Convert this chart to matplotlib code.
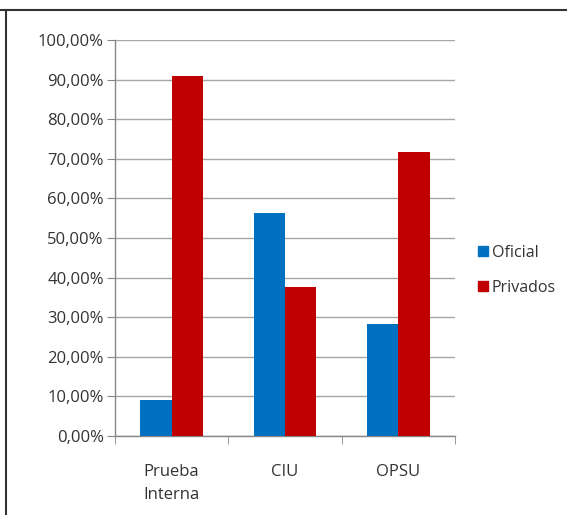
import matplotlib.pyplot as plt
import matplotlib.lines as mlines
import numpy as np

categories = ["Prueba\nInterna", "CIU", "OPSU"]
oficial = [9.1, 56.4, 28.3]
privados = [90.9, 37.6, 71.7]
y_ticks = [0, 10, 20, 30, 40, 50, 60, 70, 80, 90, 100]
y_labels = ["%d,00%%" % v for v in y_ticks]

plt.rcParams['font.family'] = ['Open Sans', 'DejaVu Sans']

fig = plt.figure(figsize=(5.67, 5.15), dpi=100)
ax = fig.add_axes([0.2028, 0.1534, 0.5997, 0.7689])

x = np.arange(len(categories))
w = 0.275
ax.bar(x - w / 2, oficial, width=w, color='#0070C0', edgecolor='none', zorder=3)
ax.bar(x + w / 2, privados, width=w, color='#C00000', edgecolor='none', zorder=3)

ax.set_xlim(-0.5, len(categories) - 0.5)
ax.set_ylim(0, 100)
ax.set_yticks(y_ticks)
ax.set_yticklabels(y_labels)
ax.set_xticks(x)
ax.set_xticklabels(categories, linespacing=1.6)
ax.set_xticks(np.arange(-0.5, len(categories)), minor=True)

ax.grid(axis='y', color='#a6a6a6', linewidth=1, zorder=0)
for s in ['top', 'right']:
    ax.spines[s].set_visible(False)
for s in ['left', 'bottom']:
    ax.spines[s].set_color('#868686')
    ax.spines[s].set_linewidth(1)

ax.tick_params(axis='y', length=6, color='#868686', labelsize=12, labelcolor='#333333', pad=2)
ax.tick_params(axis='x', which='major', length=0, labelsize=12, labelcolor='#333333', pad=20)
ax.tick_params(axis='x', which='minor', length=6, color='#868686')

handles = [
    mlines.Line2D([], [], color='#0070C0', marker='s', linestyle='None', markersize=7.5, label='Oficial'),
    mlines.Line2D([], [], color='#C00000', marker='s', linestyle='None', markersize=7.5, label='Privados'),
]
fig.legend(handles=handles, loc='center left', bbox_to_anchor=(0.812, 0.475), frameon=False,
           fontsize=11.5, labelspacing=1.2, handletextpad=0.05, handlelength=1.0, labelcolor='#333333')

# outer frame lines
fig.add_artist(mlines.Line2D([0, 1], [1 - 10 / 515] * 2, color='#333333', linewidth=1.5))
fig.add_artist(mlines.Line2D([6 / 567] * 2, [0, 1 - 10 / 515], color='#333333', linewidth=1.5))

fig.savefig('out.png', dpi=100)
